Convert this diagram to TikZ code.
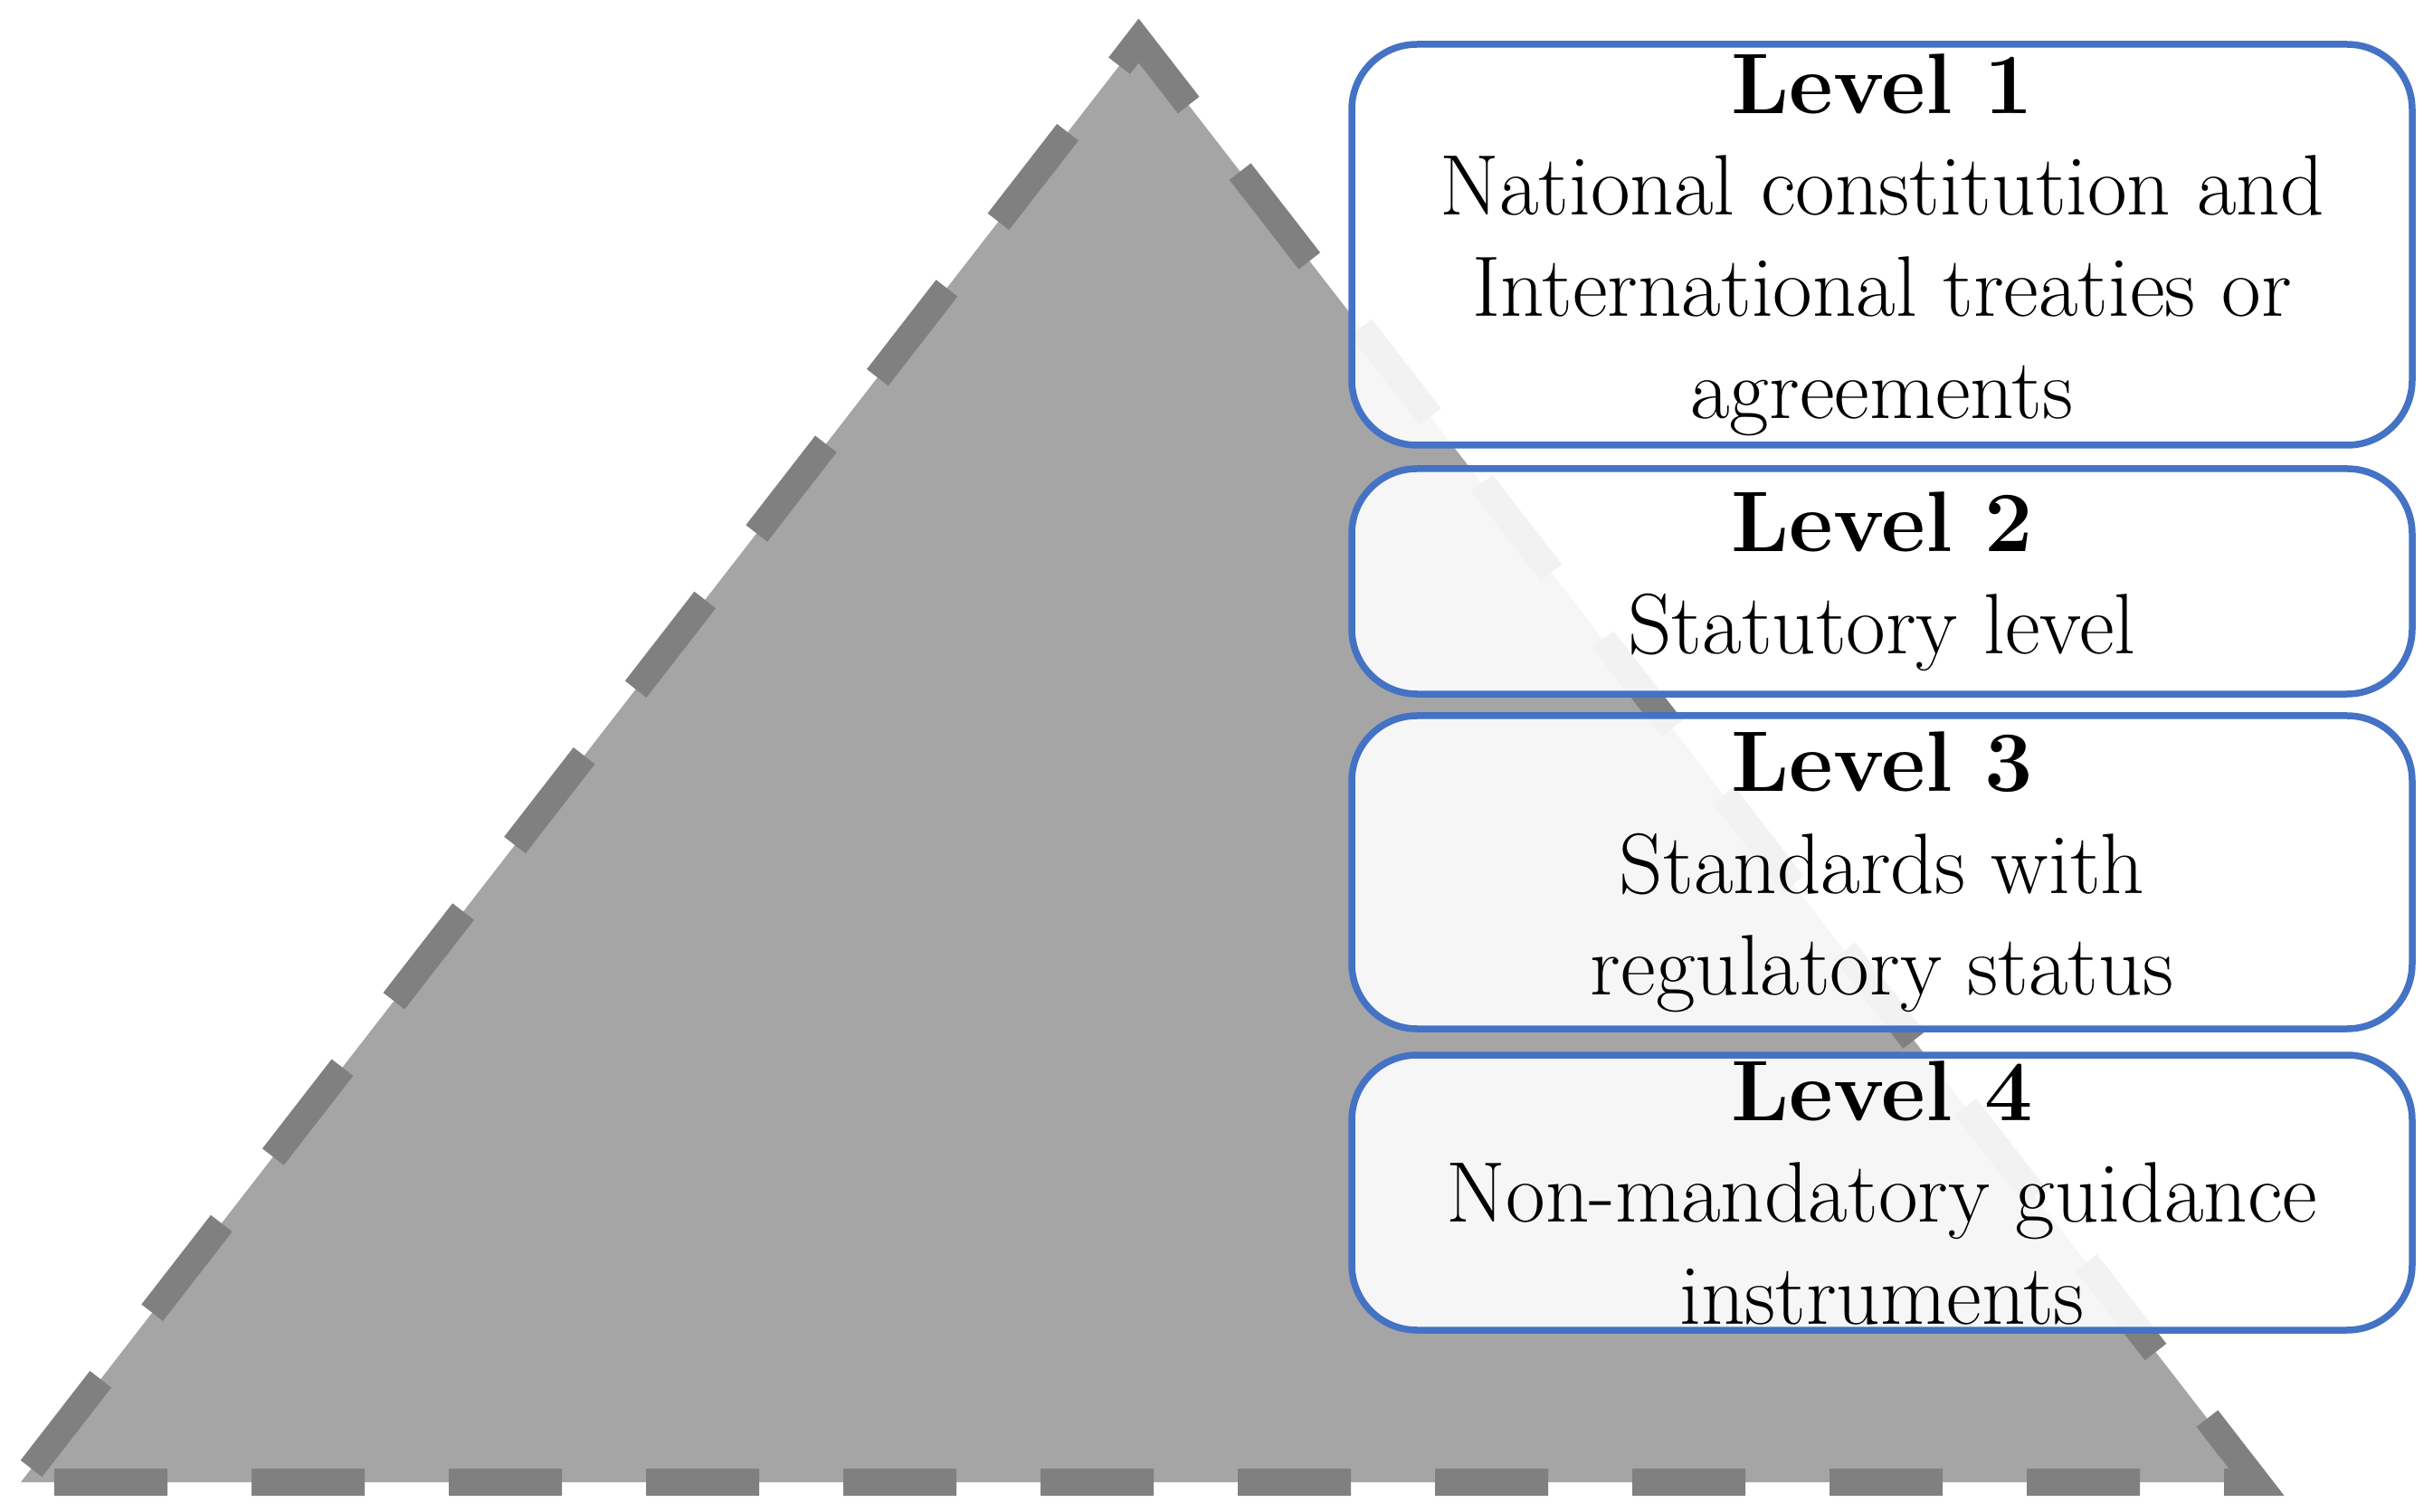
\documentclass[tikz,border=0pt]{standalone}
\usepackage[svgnames]{xcolor}
\usetikzlibrary{calc}
\definecolor{pyrfill}{HTML}{A5A5A5}
\definecolor{pyrdash}{HTML}{808080}
\definecolor{boxblue}{HTML}{4472C4}
\tikzset{
  pyramid/.style={fill=pyrfill, draw=pyrdash, line width=0.30cm,
    dash pattern=on 1.25cm off 0.93cm, dash phase=1.81cm},
  levelbox/.style={draw=boxblue, line width=0.075cm, fill=white,
    fill opacity=0.9, text opacity=1, rounded corners=0.72cm,
    minimum width=11.72cm, inner sep=0pt, align=center,
    font=\fontsize{27}{32}\selectfont}
}

\begin{document}
\begin{tikzpicture}
\useasboundingbox (0,0) rectangle (26.89,16.70);
% the pyramid
\coordinate (baseL) at (0.23,0.32);
\coordinate (baseR) at (24.94,0.32);
\coordinate (apex) at (12.585,16.25);
\filldraw[pyramid] (baseL) -- (baseR) -- (apex) -- cycle;
% the four levels
\node[levelbox, minimum height=4.43cm] (lvl1) at (20.80,13.995)
  {\textbf{Level 1}\\National constitution and\\International treaties or\\agreements};
\node[levelbox, minimum height=2.49cm] (lvl2) at (20.80,10.275)
  {\textbf{Level 2}\\Statutory level};
\node[levelbox, minimum height=3.46cm] (lvl3) at (20.80,7.06)
  {\textbf{Level 3}\\Standards with\\regulatory status};
\node[levelbox, minimum height=3.04cm] (lvl4) at (20.80,3.52)
  {\textbf{Level 4}\\Non-mandatory guidance\\instruments};
\end{tikzpicture}
\end{document}
